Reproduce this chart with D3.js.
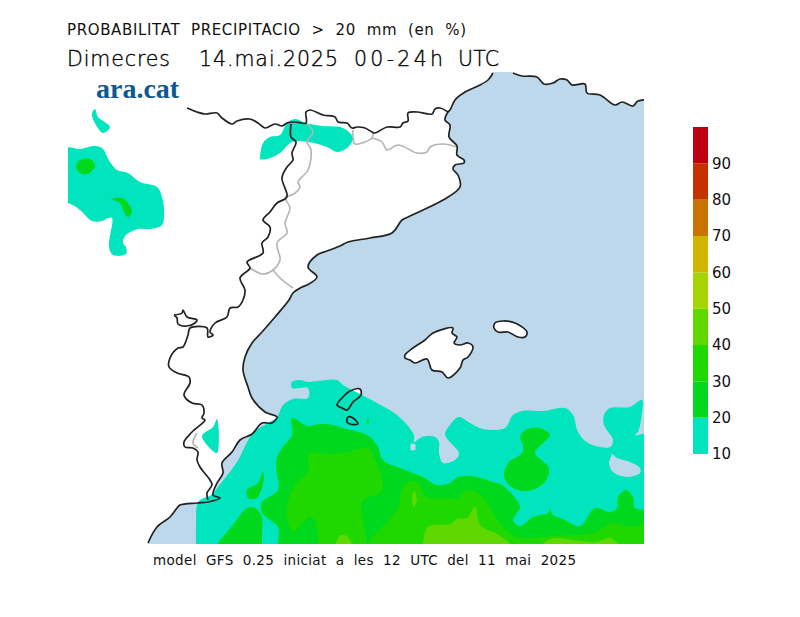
<!DOCTYPE html>
<html>
<head>
<meta charset="utf-8">
<script src="https://cdn.jsdelivr.net/npm/d3@7"></script>
<style>
  html, body { margin: 0; background: #fff; }
  svg { display: block; }
  text { font-family: "DejaVu Sans", sans-serif; fill: #111; white-space: pre; }
</style>
</head>
<body>
<div id="chart"></div>
<script>
// map positions are in panel units: [east, north] from the panel's SW corner

// coastline and borders
var coastSouth = [[425,471],[420,464],[410,458],[397,452],[387,444],[382,434],[380,432],[377,424],[382,419],[381,407],[389,398],[389,389],[396,384],[396,381],[387,379],[385,375],[390,369],[392,357],[375,344],[355,334],[340,327],[334,324],[324,311],[302,306],[280,302],[272,298],[259,293],[249,289],[240,277],[249,267],[239,259],[234,257],[225,251],[221,244],[207,227],[194,212],[184,201],[177,187],[175,174],[180,157],[184,146],[197,132],[209,127],[204,121],[194,121],[184,110],[172,104],[164,92],[154,81],[155,71],[149,61],[145,49],[152,46],[140,42],[129,41],[112,39],[109,36],[102,27],[89,17],[80,1]];
var coastNorth = [[445,471],[454,468],[469,467],[476,460],[485,461],[492,465],[499,464],[504,459],[517,460],[519,451],[532,449],[547,439],[554,442],[565,438],[570,443],[590,444]];
var borderTop = [[119,436],[129,432],[137,430],[149,431],[154,426],[164,420],[169,423],[182,425],[190,421],[197,416],[207,420],[214,418],[219,421],[227,422],[238,421],[238,432],[242,434],[255,429],[267,427],[270,422],[279,421],[284,416],[289,417],[297,416],[304,412],[307,411],[319,417],[332,417],[335,421],[340,423],[340,431],[349,432],[364,430],[367,435],[372,436],[380,432]];
var borderInland = [[223,420],[223,407],[228,402],[224,391],[225,384],[219,377],[214,366],[219,347],[209,341],[202,332],[195,324],[202,317],[200,307],[194,301],[195,291],[179,282],[182,276],[172,266],[177,254],[175,244],[170,237],[162,236],[159,227],[147,221],[142,212],[145,209],[140,207],[139,216],[122,216],[120,209],[115,197],[110,196],[102,186],[101,177],[109,171],[121,167],[122,161],[116,149],[124,141],[134,139],[136,131],[134,126],[137,124],[124,112],[116,102],[117,97],[125,96],[130,92],[129,84],[132,77],[142,64],[144,59],[139,51],[140,44]];
var enclave = [[106,229],[114,231],[115,234],[119,227],[129,224],[127,221],[119,218],[110,220],[109,226],[106,229]];

var grayWest = [[238,421],[245,412],[239,402],[243,394],[240,374],[230,362],[232,357],[224,349],[217,347],[222,336],[219,327],[217,321],[219,311],[209,301],[212,284],[205,274],[195,270],[182,276]];
var grayBranch = [[205,274],[212,266],[225,256]];
var grayLoop = [[285,414],[285,407],[287,400],[304,406],[305,411]];
var grayEast = [[304,406],[314,402],[319,394],[330,399],[349,391],[359,392],[362,397],[375,400],[389,397]];
var graySouth = [[129,111],[125,101],[130,96]];

// islands
var mallorca = [[337,189],[345,196],[357,204],[365,211],[385,216],[384,211],[389,207],[386,201],[392,199],[400,201],[405,197],[400,187],[395,184],[392,176],[380,166],[374,172],[364,174],[359,185],[347,181],[342,184],[337,186]];
var menorca = [[427,221],[435,223],[447,221],[459,212],[457,207],[450,207],[440,212],[430,212],[426,216]];
var ibiza = [[292,155],[282,153],[274,146],[269,139],[274,136],[279,134],[285,142],[293,149]];
var formentera = [[280,127],[285,126],[290,120],[282,120],[279,122]];

// 10-20 % areas
var tealWest = [[-12,397],[0,397],[12,395],[25,398],[34,396],[42,382],[49,374],[60,371],[72,362],[89,357],[94,347],[96,332],[94,319],[82,315],[70,315],[57,308],[55,301],[58,297],[58,290],[45,289],[41,297],[44,326],[40,326],[34,323],[24,323],[12,334],[0,341],[-12,341]];
var tealNorth = [[27,435],[30,427],[42,417],[35,411],[28,419],[24,430]];
var tealPyrenees = [[192,387],[195,401],[202,407],[212,409],[219,421],[227,425],[238,421],[255,418],[275,416],[285,406],[279,396],[269,392],[259,397],[240,402],[224,402],[212,391],[199,385],[192,385]];
var tealInland = [[149,125],[149,91],[134,108],[145,117]];
var tealSouth = [[128,-30],[128,-12],[128,0],[128,20],[129,39],[132,44],[143,49],[150,57],[169,82],[185,111],[200,121],[209,127],[215,139],[225,145],[240,146],[240,156],[224,156],[224,162],[232,164],[240,162],[249,163],[269,164],[275,159],[294,149],[309,141],[329,129],[346,109],[346,102],[354,107],[367,107],[371,102],[371,91],[375,81],[387,84],[391,91],[377,109],[382,119],[391,127],[402,121],[415,115],[437,116],[445,129],[455,133],[475,133],[497,136],[505,129],[510,112],[520,101],[542,97],[545,104],[536,119],[536,129],[542,136],[562,137],[574,144],[574,131],[570,112],[567,109],[590,109],[590,-30]];
var tealHoleEast = [[543,87],[541,81],[545,72],[559,67],[572,71],[572,76],[562,82],[549,86],[544,90]];
var tealHoleDot = [[343,100],[347,100],[347,94],[343,94]];

// 20-30 % areas
var greenWest = [[8,378],[12,384],[22,385],[27,379],[25,374],[19,370],[12,371]];
var greenCrescent = [[43,345],[54,346],[60,341],[64,332],[60,327],[56,332],[52,341]];
var greenSouth = [[210,-12],[210,0],[210,17],[194,31],[194,42],[210,54],[208,77],[209,87],[214,96],[224,109],[224,126],[239,118],[252,120],[265,119],[274,116],[299,109],[309,99],[315,84],[332,76],[355,67],[369,59],[382,61],[390,67],[409,67],[425,62],[434,59],[450,42],[452,36],[445,24],[452,18],[465,27],[480,31],[482,35],[485,29],[495,25],[512,18],[527,36],[542,32],[549,36],[550,47],[558,54],[565,47],[567,36],[590,31],[590,-12]];
var greenLeft = [[140,-12],[149,0],[164,18],[179,36],[187,36],[194,27],[194,12],[194,0],[194,-12]];
var greenPatch = [[195,72],[196,66],[189,46],[180,46],[179,54],[190,61]];
var greenBlob = [[452,107],[459,115],[472,116],[482,109],[475,101],[467,91],[481,76],[477,62],[460,53],[445,56],[436,67],[440,81],[454,91],[455,99]];
var greenLens = [[300,126],[301,122],[300,119],[299,122]];

// 30-40 % areas
var limeWest = [[250,-12],[250,0],[247,24],[240,27],[235,22],[225,12],[219,29],[220,42],[227,59],[240,72],[240,89],[242,91],[269,90],[300,96],[304,91],[315,56],[310,50],[295,44],[293,36],[299,1],[299,-12]];
var limeEast = [[300,-12],[300,0],[329,34],[334,54],[339,61],[349,62],[359,47],[382,46],[390,45],[395,51],[407,53],[419,41],[432,21],[442,11],[449,7],[465,6],[482,8],[505,9],[525,11],[545,21],[559,18],[590,17],[590,-12]];

// 40-50 % areas
var yellowMain = [[355,-12],[355,0],[360,17],[382,20],[389,25],[399,26],[407,37],[412,19],[427,11],[442,0],[442,-12]];
var yellowEast = [[470,-8],[482,5],[505,4],[529,2],[542,6],[555,-8]];
var yellowWest = [[267,-8],[272,8],[279,8],[285,-8]];
var yellowLens = [[346,53],[349,44],[346,37],[344,44]];

// colour bar
var levels = [10, 20, 30, 40, 50, 60, 70, 80, 90];
var levelColors = ["#00e5be", "#00d81e", "#1ed800", "#5fd800", "#a5d400", "#cfb500", "#c97300", "#c43200", "#bf0010"];

var title1 = "PROBABILITAT  PRECIPITACIO  >  20  mm  (en  %)";
var title2Parts = ["Dimecres", "14.mai.2025", "00-24h", "UTC"];
var footer = "model  GFS  0.25  iniciat  a  les  12  UTC  del  11  mai  2025";
var logoText = "ara.cat";

var width = 800, height = 617;

var svg = d3.select("#chart").append("svg")
  .attr("width", width)
  .attr("height", height);

var xMap = d3.scaleLinear().domain([0, 576]).range([68, 644]);
var yMap = d3.scaleLinear().domain([0, 472]).range([544, 72]);

svg.append("clipPath").attr("id", "panel")
  .append("rect")
  .attr("x", xMap(0)).attr("y", yMap(472))
  .attr("width", xMap(576) - xMap(0)).attr("height", yMap(0) - yMap(472));

var mapLayer = svg.append("g").attr("clip-path", "url(#panel)");

var ringLine = d3.line().x(d => xMap(d[0])).y(d => yMap(d[1])).curve(d3.curveCatmullRomClosed.alpha(0.5));
var pathLine = d3.line().x(d => xMap(d[0])).y(d => yMap(d[1])).curve(d3.curveCatmullRom.alpha(0.5));

function fillArea(rings, color) {
  mapLayer.append("path")
    .attr("d", rings.map(r => ringLine(r)).join(""))
    .attr("fill", color)
    .attr("fill-rule", "evenodd");
}

function strokeLine(r, line, color, w) {
  mapLayer.append("path").attr("d", line(r))
    .attr("fill", "none").attr("stroke", color).attr("stroke-width", w).attr("stroke-linejoin", "round");
}

// sea, then the islands on top of it
var sea = coastSouth.concat([[80, -12], [590, -12]], coastNorth.slice().reverse(), [[445, 485], [425, 485]]);
fillArea([sea], "#bcd8ea");
[mallorca, menorca, ibiza, formentera].forEach(r => fillArea([r], "#fff"));

// probability areas, lowest level first
fillArea([tealSouth, tealHoleEast, tealHoleDot], levelColors[0]);
[tealWest, tealNorth, tealPyrenees, tealInland].forEach(r => fillArea([r], levelColors[0]));
[greenSouth, greenLeft, greenWest, greenCrescent, greenPatch, greenBlob, greenLens].forEach(r => fillArea([r], levelColors[1]));
[limeWest, limeEast].forEach(r => fillArea([r], levelColors[2]));
[yellowMain, yellowEast, yellowWest, yellowLens].forEach(r => fillArea([r], levelColors[3]));

// borders
[grayWest, grayBranch, grayLoop, grayEast, graySouth].forEach(r => strokeLine(r, pathLine, "#b4b4b4", 1.6));
[coastSouth, coastNorth, borderTop, borderInland, enclave].forEach(r => strokeLine(r, pathLine, "#222", 1.7));
[mallorca, menorca, ibiza, formentera].forEach(r => strokeLine(r, ringLine, "#222", 1.7));

// titles
svg.append("text").attr("x", 67).attr("y", 35)
  .attr("font-size", 15).attr("textLength", 399).attr("lengthAdjust", "spacing").text(title1);

// second title line is laid out word group by word group, gaps are uneven in the original
var title2Left = [67, 199, 354, 458];
var title2Width = [103, 139, 89, 41];
svg.append("g").selectAll("text")
  .data(title2Parts)
  .enter()
  .append("text")
    .attr("x", (d, i) => title2Left[i])
    .attr("y", 66)
    .attr("font-size", 20.5)
    .attr("font-weight", 200)
    .attr("textLength", (d, i) => title2Width[i])
    .attr("lengthAdjust", "spacing")
    .style("fill", "#000")
    .style("stroke", "#000")
    .style("stroke-width", 0.35)
    .text(d => d);

svg.append("text").attr("x", 153).attr("y", 565)
  .attr("font-size", 13.5).attr("textLength", 423).attr("lengthAdjust", "spacing").text(footer);
svg.append("text").attr("x", 96).attr("y", 98)
  .attr("font-size", 28).attr("font-weight", "bold")
  .style("font-family", "'Liberation Serif', serif").style("fill", "#0b5a94").text(logoText);

// colour bar
var bar = d3.scaleLinear().domain([10, 100]).range([454, 127]);
svg.append("g").selectAll("rect")
  .data(levels)
  .enter()
  .append("rect")
    .attr("x", 693)
    .attr("width", 15)
    .attr("y", d => bar(d + 10))
    .attr("height", d => bar(d) - bar(d + 10))
    .attr("fill", (d, i) => levelColors[i]);

var axis = svg.append("g")
  .attr("transform", "translate(708,0)")
  .call(d3.axisRight(bar).tickValues(levels).tickSize(0).tickPadding(4));
axis.select(".domain").remove();
axis.selectAll("text").attr("font-size", 15).style("font-family", "'DejaVu Sans', sans-serif").style("fill", "#111");
</script>
</body>
</html>
